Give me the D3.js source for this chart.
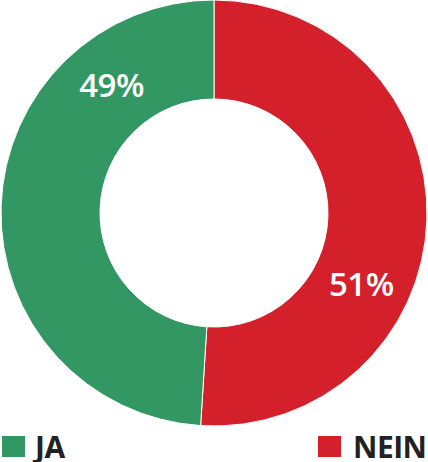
<!DOCTYPE html>
<html><head><meta charset="utf-8">
<script src="https://cdn.jsdelivr.net/npm/d3@7/dist/d3.min.js"></script>
<style>html,body{margin:0;padding:0;background:#fff;overflow:hidden}</style>
</head><body>
<svg id="c" width="428" height="462"></svg>
<script>
const categories = ["NEIN", "JA"];
const values = [51, 49];
const labels = ["51%", "49%"];
const colors = ["#d4202a", "#339763"];
const labelFrac = [0.63, 0.78];

const svg = d3.select("#c");
const cx = 214, cy = 213, R = 213, r = 114;
const g = svg.append("g").attr("transform", `translate(${cx},${cy})`);
const pie = d3.pie().sort(null).value(d => d)(values);
const arc = d3.arc().innerRadius(r).outerRadius(R);
g.selectAll("path").data(pie).join("path")
  .attr("d", arc).attr("fill", (d,i) => colors[i])
  .attr("stroke", "#fff").attr("stroke-width", 1);

const mid = (R + r) / 2;
g.selectAll("text").data(pie).join("text")
  .attr("x", (d,i) => { const a = d.startAngle + labelFrac[i]*(d.endAngle-d.startAngle); return mid*Math.sin(a); })
  .attr("y", (d,i) => { const a = d.startAngle + labelFrac[i]*(d.endAngle-d.startAngle); return -mid*Math.cos(a); })
  .attr("dy", "0.36em")
  .attr("text-anchor", "middle")
  .attr("fill", "#fff")
  .attr("font-family", "Open Sans, sans-serif")
  .attr("font-weight", 600)
  .attr("font-size", 33)
  .attr("letter-spacing", -0.5)
  .text((d,i) => labels[i]);

const legend = [
  {name: categories[1], color: colors[1], x: 2},
  {name: categories[0], color: colors[0], x: 318}
];
const lg = svg.selectAll("g.lg").data(legend).join("g").attr("class","lg")
  .attr("transform", d => `translate(${d.x},436)`);
lg.append("rect").attr("width", 23).attr("height", 21).attr("fill", d => d.color);
lg.append("text").attr("x", d => d.name === "JA" ? 33 : 35).attr("y", 22)
  .attr("fill", "#222").attr("font-family", "Open Sans, sans-serif")
  .attr("font-weight", 700).attr("font-size", 30).attr("letter-spacing", -0.5)
  .text(d => d.name);
</script>
</body></html>
